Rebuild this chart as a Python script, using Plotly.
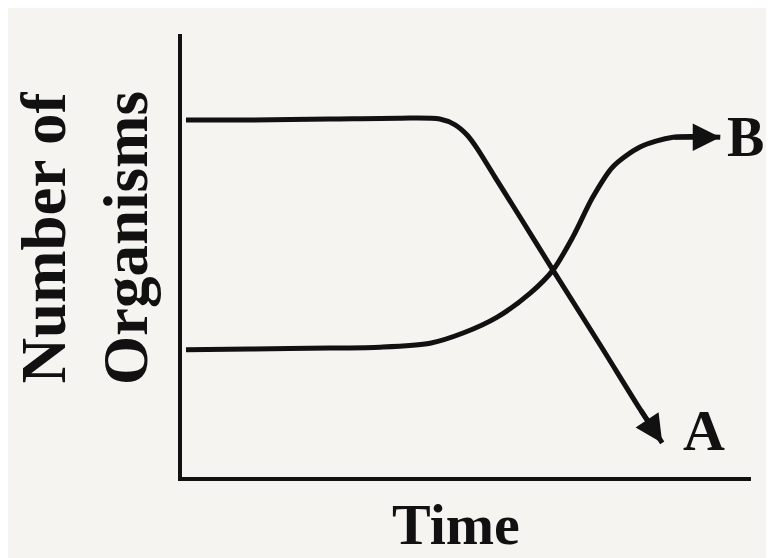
import plotly.graph_objects as go

# Curve A: population that stays high, then collapses
a_time = [0.07, 1.2, 2.6, 3.83, 4.53, 4.80, 5.01, 5.18, 5.50, 5.94, 6.52, 7.35, 8.05, 8.44]
a_count = [8.06, 8.06, 8.08, 8.10, 8.08, 7.95, 7.72, 7.43, 6.77, 5.87, 4.67, 2.98, 1.53, 0.77]

# Curve B: population that stays low, then rises
b_time = [0.07, 1.2, 2.6, 3.48, 4.36, 4.94, 5.54, 6.12, 6.52, 6.87, 7.22, 7.57, 8.05, 8.63, 9.46]
b_count = [2.87, 2.89, 2.91, 2.93, 3.02, 3.25, 3.61, 4.15, 4.67, 5.42, 6.32, 7.00, 7.45, 7.67, 7.67]

INK = "#111111"
BG = "#f5f4f1"
SERIF = "Liberation Serif"

fig = go.Figure()
for t, c in [(a_time, a_count), (b_time, b_count)]:
    fig.add_trace(go.Scatter(x=t, y=c, mode="lines",
                             line=dict(color=INK, width=5, shape="spline", smoothing=0.8),
                             hoverinfo="skip"))
    # arrowhead on the last segment
    fig.add_annotation(x=t[-1], y=c[-1], ax=t[-2], ay=c[-2],
                       xref="x", yref="y", axref="x", ayref="y",
                       text="", showarrow=True, arrowhead=2, arrowsize=1.1,
                       arrowwidth=5, arrowcolor=INK, standoff=0, startstandoff=0)

# curve labels
fig.add_annotation(x=9.17, y=1.06, xref="x", yref="y", text="<b>A</b>",
                   xanchor="center", yanchor="middle",
                   showarrow=False, font=dict(family=SERIF, size=58, color=INK))
fig.add_annotation(x=0.99, y=7.67, xref="paper", yref="y", text="<b>B</b>",
                   xanchor="center", yanchor="middle",
                   showarrow=False, font=dict(family=SERIF, size=56, color=INK))

# axis titles
fig.add_annotation(x=4.82, y=-0.108, xref="x", yref="paper", text="<b>Time</b>",
                   xanchor="center", yanchor="middle",
                   showarrow=False, font=dict(family=SERIF, size=58, color=INK))
fig.add_annotation(x=-0.17, y=5.4, xref="paper", yref="y", text="<b>Number of<br>Organisms</b>",
                   xanchor="center", yanchor="middle", textangle=-90, showarrow=False,
                   font=dict(family=SERIF, size=63, color=INK))

fig.update_xaxes(range=[0, 10], showline=True, linecolor=INK, linewidth=4,
                 showgrid=False, zeroline=False, showticklabels=False, ticks="")
fig.update_yaxes(range=[0, 10], showline=True, linecolor=INK, linewidth=4,
                 showgrid=False, zeroline=False, showticklabels=False, ticks="")

fig.update_layout(width=774, height=558, showlegend=False,
                  paper_bgcolor=BG, plot_bgcolor=BG,
                  margin=dict(l=174, r=31, t=26, b=89))

fig.write_html("out.html")
